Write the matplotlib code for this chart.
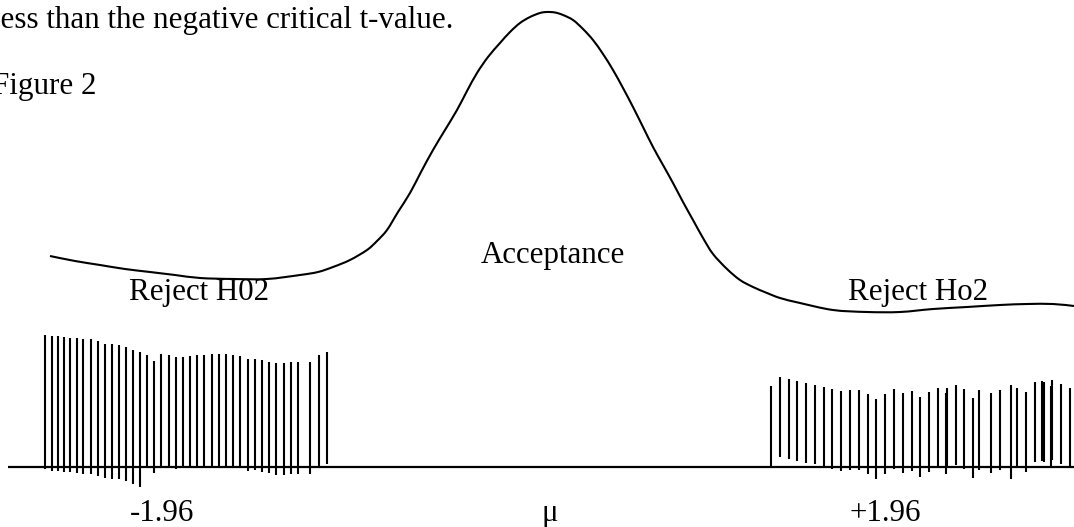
import matplotlib
matplotlib.use("Agg")
import matplotlib.pyplot as plt
from matplotlib.path import Path
from matplotlib.patches import PathPatch

# page is drawn in pixel units: x to the right, y downwards
W, H = 1074, 527

# the hand drawn density curve
curve_x = [50, 75, 100, 125, 150, 175, 200, 233, 267, 300, 318, 333, 350, 367, 377,
           387, 398, 410, 421, 433, 445, 457, 467, 477, 488, 500, 510, 520, 530, 540,
           547, 555, 563, 573, 583, 593, 603, 613, 623, 633, 643, 653, 663, 673, 683,
           693, 703, 713, 727, 740, 753, 767, 780, 800, 833, 867, 900, 933, 967, 1000,
           1027, 1053, 1074]
curve_y = [256, 261, 265, 269, 272, 275, 278, 279, 279, 275, 272, 267, 260, 250, 241,
           230, 212, 193, 172, 150, 130, 110, 91, 73, 57, 43, 32, 23, 17, 13,
           12, 12.5, 15, 20, 29, 40, 54, 70, 88, 107, 127, 147, 165, 183, 202,
           220, 238, 254, 269, 280, 287, 293, 298, 303, 310, 312, 312, 309, 307, 305,
           304, 304, 306]

# hatching of the left rejection region
left_x = [45, 51.7, 58, 64, 70.3, 76.7, 83.3, 90.7, 97.7, 104.7, 112, 119, 126, 133.3,
          140.3, 147.3, 154, 161.3, 168.7, 175.7, 183, 190, 197.3, 204.3, 211.7, 219,
          226.3, 233.3, 240.3, 247.7, 255, 262, 269.3, 276.3, 283.7, 291, 298, 310,
          319, 326.7]
left_top = [335, 335.7, 336.3, 337, 337.7, 338.3, 339, 339.3, 341.3, 344, 344.3, 344.7,
            347.3, 349.7, 352.3, 354.7, 361.3, 353.7, 355.3, 357, 356.7, 356, 355.3,
            354.7, 354.3, 354, 353.7, 355.3, 356.3, 358.7, 358.7, 360.3, 362, 363.3,
            363, 362.3, 362, 362, 354.7, 351.7]
left_bot = [469.3, 470.7, 471.3, 471.7, 472.3, 473, 473.7, 473.7, 475.7, 478, 478.7,
            479.3, 481.3, 484, 486.7, 467, 472.7, 465.7, 467, 469.3, 467, 467, 467,
            467, 467, 465.7, 465.7, 467, 467, 470.7, 470, 471.7, 473.3, 475, 475, 474,
            473.7, 474, 467, 464]

# hatching of the right rejection region
right_x = [771, 779.7, 788.7, 797.3, 806, 814.7, 823.7, 832.3, 841.3, 850, 859, 867.7,
           876.3, 885.3, 894, 903, 911.7, 920.3, 929.3, 938.3, 945.7, 947, 955.7, 964.3,
           973, 978.7, 990.7, 999.7, 1010.7, 1017.3, 1026, 1035, 1042.3, 1043.5, 1051,
           1052.3, 1061.3, 1070.3]
right_top = [386, 376.7, 379, 380.7, 382.7, 384.7, 386.7, 388.7, 390.7, 390, 390, 394.3,
             398.7, 393.7, 389, 393.3, 391, 397.3, 392.3, 387.7, 393.3, 387.7, 385, 389,
             398, 390, 393, 390, 385.3, 387.7, 392, 382.3, 381, 382, 386, 380, 384, 388]
right_bot = [466, 456.7, 459, 460.7, 462.7, 464.3, 468.3, 469.3, 470.7, 470, 470, 474.3,
             478.7, 473.7, 469, 473.3, 471, 477.3, 472.3, 467.7, 474, 467.3, 465, 469,
             478, 470, 473, 470, 478.7, 467.7, 472, 462.3, 461, 462, 466.7, 460, 464, 468]

axis_y = 467
axis_x0 = 8

labels = ["-1.96", "\u03bc", "+1.96"]
label_x = [162, 550, 885]


def smooth_path(xs, ys):
    # catmull-rom through the read points, written as cubic bezier pieces
    pts = list(zip(xs, ys))
    verts = [pts[0]]
    codes = [Path.MOVETO]
    for i in range(len(pts) - 1):
        p0 = pts[i - 1] if i > 0 else pts[i]
        p1, p2 = pts[i], pts[i + 1]
        p3 = pts[i + 2] if i + 2 < len(pts) else pts[i + 1]
        c1 = (p1[0] + (p2[0] - p0[0]) / 6, p1[1] + (p2[1] - p0[1]) / 6)
        c2 = (p2[0] - (p3[0] - p1[0]) / 6, p2[1] - (p3[1] - p1[1]) / 6)
        verts += [c1, c2, p2]
        codes += [Path.CURVE4] * 3
    return Path(verts, codes)


fig = plt.figure(figsize=(W / 100, H / 100), dpi=100)
ax = fig.add_axes([0, 0, 1, 1])
ax.set_xlim(0, W)
ax.set_ylim(H, 0)
ax.axis("off")

serif = "Liberation Serif"
fs = 22.3

ax.add_patch(PathPatch(smooth_path(curve_x, curve_y), facecolor="none",
                       edgecolor="black", lw=1.5))
ax.vlines(left_x, left_top, left_bot, color="black", lw=1.5)
ax.vlines(right_x, right_top, right_bot, color="black", lw=1.5)
ax.hlines(axis_y, axis_x0, W, color="black", lw=1.6)

ax.text(-8.5, 28, "less than the negative critical t-value.", family=serif,
        fontsize=fs, va="baseline", ha="left")
ax.text(-7.7, 94, "Figure 2", family=serif, fontsize=fs, va="baseline", ha="left")

ax.text(481, 263, "Acceptance", family=serif, fontsize=fs, va="baseline", ha="left")
ax.text(129, 300, "Reject H02", family=serif, fontsize=fs, va="baseline", ha="left")
ax.text(848, 300, "Reject Ho2", family=serif, fontsize=fs, va="baseline", ha="left")

for lx, lab in zip(label_x, labels):
    ax.text(lx, 521, lab, family=serif, fontsize=fs, va="baseline", ha="center")

fig.savefig("out.png", dpi=100)
